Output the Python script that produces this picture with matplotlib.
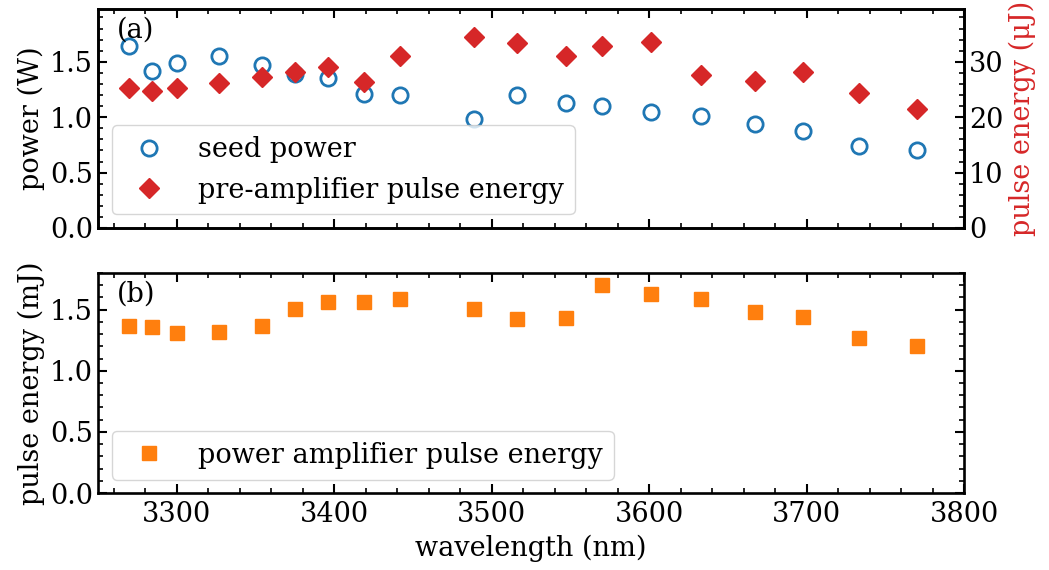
import matplotlib
matplotlib.use('Agg')
import matplotlib.pyplot as plt
from matplotlib.ticker import MultipleLocator

# data
wavelength = [3270, 3284, 3300, 3327, 3354, 3375, 3396, 3419, 3442, 3489,
              3516, 3547, 3570, 3601, 3633, 3667, 3698, 3733, 3770]
seed_power = [1.64, 1.42, 1.49, 1.55, 1.47, 1.39, 1.35, 1.21, 1.20, 0.98,
              1.20, 1.13, 1.10, 1.045, 1.01, 0.94, 0.873, 0.738, 0.702]
pre_amp_energy = [25.2, 24.8, 25.2, 26.2, 27.2, 28.2, 29.1, 26.3, 31.0, 34.4,
                  33.4, 31.0, 32.9, 33.6, 27.7, 26.6, 28.1, 24.3, 21.4]
power_amp_energy = [1.37, 1.355, 1.31, 1.315, 1.37, 1.505, 1.56, 1.56, 1.59, 1.505,
                    1.425, 1.43, 1.70, 1.625, 1.585, 1.478, 1.437, 1.268, 1.202]

plt.rcParams['font.family'] = 'serif'
plt.rcParams['font.serif'] = ['DejaVu Serif']
plt.rcParams['font.size'] = 19.5
plt.rcParams['axes.linewidth'] = 1.9
plt.rcParams['xtick.direction'] = 'in'
plt.rcParams['ytick.direction'] = 'in'
plt.rcParams['xtick.major.size'] = 6.5
plt.rcParams['ytick.major.size'] = 6.5
plt.rcParams['xtick.minor.size'] = 3.6
plt.rcParams['ytick.minor.size'] = 3.6
plt.rcParams['xtick.major.width'] = 1.5
plt.rcParams['ytick.major.width'] = 1.5
plt.rcParams['xtick.minor.width'] = 1.2
plt.rcParams['ytick.minor.width'] = 1.2
plt.rcParams['xtick.major.pad'] = 5.5

fig = plt.figure(figsize=(10.49, 5.70), dpi=100)
ax1 = fig.add_axes([0.0934, 0.600, 0.8256, 0.384])
ax2 = fig.add_axes([0.0934, 0.135, 0.8256, 0.386], sharex=ax1)

# (a) seed power and pre-amplifier energy
l1, = ax1.plot(wavelength, seed_power, 'o', ls='none', ms=11, mfc='none',
               mec='C0', mew=2, label='seed power')
ax1.set_ylim(0, 1.975)
ax1.set_ylabel('power (W)')
ax1.yaxis.set_major_locator(MultipleLocator(0.5))
ax1.yaxis.set_minor_locator(MultipleLocator(0.1))
ax1.tick_params(which='both', top=True, labelbottom=False)

ax1r = ax1.twinx()
l2, = ax1r.plot(wavelength, pre_amp_energy, 'D', ls='none', ms=10, color='C3',
                label='pre-amplifier pulse energy')
ax1r.set_ylim(0, 39.5)
ax1r.set_ylabel('pulse energy (μJ)', color='C3')
ax1r.yaxis.set_major_locator(MultipleLocator(10))
ax1r.yaxis.set_minor_locator(MultipleLocator(2))
ax1r.tick_params(which='both', direction='in')
ax1r.legend(handles=[l1, l2], loc='lower left')
ax1.text(0.022, 0.965, '(a)', transform=ax1.transAxes, va='top', ha='left')

# (b) power amplifier energy
ax2.plot(wavelength, power_amp_energy, 's', ls='none', ms=10.5, color='C1',
         label='power amplifier pulse energy')
ax2.set_ylim(0, 1.8)
ax2.set_xlim(3250, 3800)
ax2.set_ylabel('pulse energy (mJ)')
ax2.set_xlabel('wavelength (nm)', labelpad=5)
ax2.xaxis.set_major_locator(MultipleLocator(100))
ax2.xaxis.set_minor_locator(MultipleLocator(20))
ax2.yaxis.set_major_locator(MultipleLocator(0.5))
ax2.yaxis.set_minor_locator(MultipleLocator(0.1))
ax2.tick_params(which='both', top=True, right=True)
ax2.legend(loc='lower left')
ax2.text(0.022, 0.965, '(b)', transform=ax2.transAxes, va='top', ha='left')

fig.align_ylabels([ax1, ax2])
fig.savefig('out.png', dpi=100)
